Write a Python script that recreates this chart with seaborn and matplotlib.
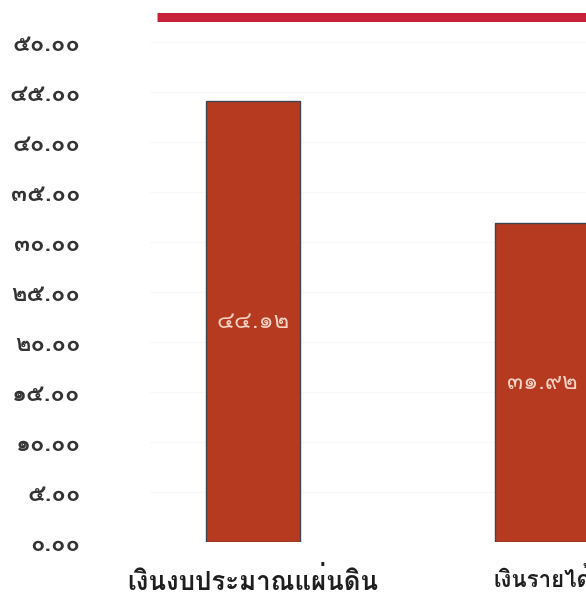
import matplotlib
matplotlib.use("Agg")
import matplotlib.pyplot as plt
from matplotlib import font_manager
from matplotlib.ft2font import FT2Font
from matplotlib.lines import Line2D
import pandas as pd
import seaborn as sns

categories = ["เงินงบประมาณแผ่นดิน", "เงินรายได้"]
values = [44.12, 31.92]
y_ticks = [0, 5, 10, 15, 20, 25, 30, 35, 40, 45, 50]

THAI_DIGITS = str.maketrans("0123456789", "๐๑๒๓๔๕๖๗๘๙")


def thai_num(v):
    return f"{v:.2f}".translate(THAI_DIGITS)


def find_thai_font():
    # pick any installed family that actually has Thai letters and digits
    for f in font_manager.fontManager.ttflist:
        try:
            cmap = FT2Font(f.fname).get_charmap()
        except Exception:
            continue
        if 0x0E07 in cmap and 0x0E55 in cmap:
            return f.name
    return None


sns.set_theme(style="white")
thai = find_thai_font()
plt.rcParams["font.family"] = [thai, "DejaVu Sans"] if thai else ["DejaVu Sans"]

df = pd.DataFrame({"cat": categories, "val": values})

fig = plt.figure(figsize=(5.86, 5.95), dpi=100)
ax = fig.add_axes([150 / 586, 53 / 595, 436 / 586, 500 / 595])

sns.barplot(data=df, x="cat", y="val", color="#b63a1f", width=0.325,
            edgecolor="#3d4652", linewidth=1.0, saturation=1, ax=ax)

ax.set_xlim(-0.356, 1.152)
ax.set_ylim(0, 50)
ax.set_yticks(y_ticks)
ax.set_yticklabels([thai_num(t) for t in y_ticks], fontsize=17,
                   fontweight="bold", color="#333333")
ax.tick_params(axis="y", pad=50, length=0)
ax.tick_params(axis="x", pad=18, length=0)
# the second label sits against the right edge, keep it a bit narrower
for lbl, size in zip(ax.get_xticklabels(), [18.5, 16]):
    lbl.set_fontsize(size)
    lbl.set_fontweight("bold")
    lbl.set_color("#1e1e1e")
ax.set_xlabel("")
ax.set_ylabel("")
ax.grid(axis="y", color="#f8f8f8", linewidth=0.8)
ax.set_axisbelow(True)
sns.despine(ax=ax, left=True, bottom=True, top=True, right=True)

for p, v in zip(ax.patches, values):
    ax.text(p.get_x() + p.get_width() / 2, v / 2, thai_num(v),
            ha="center", va="center", fontsize=17, color="#f6d2c4")

# red rule above the plot
fig.add_artist(Line2D([157 / 586, 1.0], [578 / 595, 578 / 595],
                      color="#c9203c", linewidth=6.5, solid_capstyle="butt",
                      transform=fig.transFigure))

fig.savefig("out.png", dpi=100)
